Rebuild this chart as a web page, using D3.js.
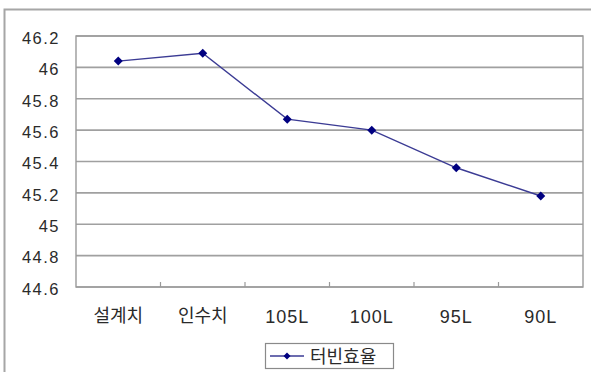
<!DOCTYPE html>
<html>
<head>
<meta charset="utf-8">
<script src="https://cdn.jsdelivr.net/npm/d3@7"></script>
<style>
  html, body { margin: 0; padding: 0; background: #fff; }
  svg { display: block; }
  text { font-family: "Liberation Sans", Arial, "Noto Sans CJK KR", sans-serif; fill: #222; }
</style>
</head>
<body>
<svg id="chart" width="591" height="372"></svg>
<script>
// Turbine efficiency by test case
const categories = ["설계치", "인수치", "105L", "100L", "95L", "90L"];
const efficiency = [46.04, 46.09, 45.67, 45.60, 45.36, 45.18];
const yTicks = [44.6, 44.8, 45, 45.2, 45.4, 45.6, 45.8, 46, 46.2];
const seriesName = "터빈효율";

const svg = d3.select("#chart");
const W = 591, H = 372;
const plot = { left: 76, top: 36, right: 583, bottom: 287 };
const hasHangul = s => /[\uac00-\ud7a3]/.test(s);

// Outer chart frame
svg.append("rect")
  .attr("x", 4.5).attr("y", 9.5)
  .attr("width", W + 10).attr("height", H + 10)
  .attr("fill", "#fff").attr("stroke", "#a6a6a6").attr("stroke-width", 2);

const x = d3.scaleBand().domain(categories).range([plot.left, plot.right]).padding(0);
const y = d3.scaleLinear().domain([44.6, 46.2]).range([plot.bottom, plot.top]);

// Horizontal gridlines
svg.append("g")
  .selectAll("line")
  .data(yTicks)
  .join("line")
  .attr("x1", plot.left).attr("x2", plot.right)
  .attr("y1", d => y(d)).attr("y2", d => y(d))
  .attr("stroke", "#a0a0a0").attr("stroke-width", 1.6);

// Plot frame
svg.append("rect")
  .attr("x", plot.left).attr("y", plot.top)
  .attr("width", plot.right - plot.left).attr("height", plot.bottom - plot.top)
  .attr("fill", "none").attr("stroke", "#9a9a9a").attr("stroke-width", 1.4);

// Y axis labels
const yAxis = d3.axisLeft(y).tickValues(yTicks).tickSize(0).tickPadding(16)
  .tickFormat(d => d3.format("")(+d.toFixed(1)));
const gy = svg.append("g").attr("transform", `translate(${plot.left},0)`).call(yAxis);
gy.select(".domain").remove();
gy.selectAll("text")
  .attr("font-size", 16.5)
  .attr("y", 2)
  .attr("letter-spacing", 1.5)
  .style("fill", "#2a2a2a");

// X axis: category labels and interior ticks at band boundaries
const xAxis = d3.axisBottom(x).tickSize(0).tickPadding(23);
const gx = svg.append("g").attr("transform", `translate(0,${plot.bottom})`).call(xAxis);
gx.select(".domain").remove();
gx.selectAll("text")
  .attr("font-size", 18)
  .attr("dy", d => hasHangul(d) ? "0.66em" : "0.71em")
  .attr("letter-spacing", d => hasHangul(d) ? 0 : 1)
  .style("fill", "#2a2a2a");

svg.append("g")
  .selectAll("line")
  .data(categories.slice(1))
  .join("line")
  .attr("x1", d => x(d)).attr("x2", d => x(d))
  .attr("y1", plot.bottom).attr("y2", plot.bottom - 5)
  .attr("stroke", "#9a9a9a").attr("stroke-width", 1.2);

// Series line
const cx = d => x(d) + x.bandwidth() / 2;
const line = d3.line()
  .x((d, i) => cx(categories[i]))
  .y(d => y(d));
svg.append("path")
  .datum(efficiency)
  .attr("d", line)
  .attr("fill", "none")
  .attr("stroke", "#3b3b94")
  .attr("stroke-width", 1.4);

// Square diamond marker
const diamondPath = "M0,-4.5L4.5,0L0,4.5L-4.5,0Z";
svg.append("g")
  .selectAll("path")
  .data(efficiency)
  .join("path")
  .attr("d", diamondPath)
  .attr("transform", (d, i) => `translate(${cx(categories[i])},${y(d)})`)
  .attr("fill", "#000080");

// Legend
const lg = svg.append("g");
lg.append("rect")
  .attr("x", 265.5).attr("y", 343.5).attr("width", 128).attr("height", 25)
  .attr("fill", "#fff").attr("stroke", "#8a8a8a").attr("stroke-width", 1.2);
lg.append("line")
  .attr("x1", 270).attr("x2", 304).attr("y1", 356).attr("y2", 356)
  .attr("stroke", "#3b3b94").attr("stroke-width", 1.4);
lg.append("path")
  .attr("d", "M0,-3.5L3.5,0L0,3.5L-3.5,0Z")
  .attr("transform", "translate(287,356)")
  .attr("fill", "#000080");
lg.append("text")
  .attr("x", 310).attr("y", 363)
  .attr("font-size", 18)
  .attr("font-family", "'Noto Sans CJK KR', sans-serif")
  .style("fill", "#2a2a2a")
  .text(seriesName);
</script>
</body>
</html>
